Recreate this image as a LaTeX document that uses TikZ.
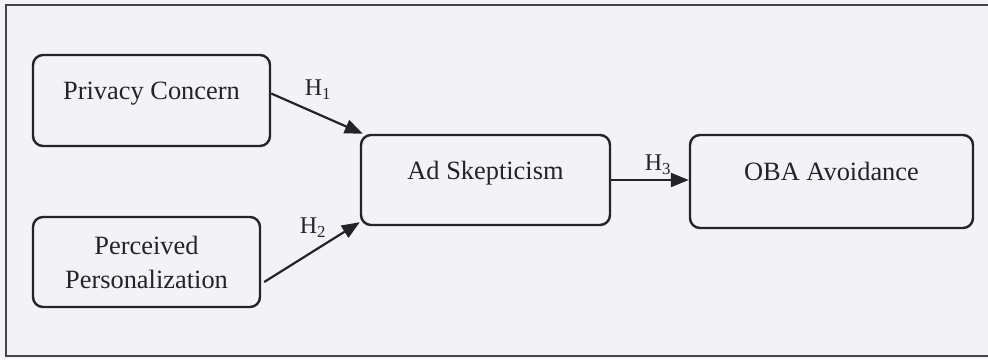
\documentclass[tikz,border=0pt]{standalone}
\usepackage{fontspec}
\setmainfont{Liberation Serif}
\usetikzlibrary{arrows.meta}
\definecolor{paper}{RGB}{243,243,247}
\definecolor{ink}{RGB}{35,35,40}

\begin{document}
\begin{tikzpicture}[x = 1pt, y = -1pt,
  box/.style = {draw = ink, line width = 2.4pt, rounded corners = 10pt, fill = paper, text = ink,
    font = \fontsize{26.4}{34}\selectfont, align = center, inner sep = 0pt},
  hyp/.style = {text = ink, font = \fontsize{24}{28}\selectfont, inner sep = 0pt},
  link/.style = {draw = ink, line width = 2.2pt, -{Triangle[length = 18pt, width = 14pt]}}]
\useasboundingbox (0,0) rectangle (988,359);
\fill[paper] (0,0) rectangle (988,359);
\draw[ink!85, line width = 2.5pt] (6,5) rectangle (1000,356);
% constructs
\node[box, minimum width = 237pt, minimum height = 91pt, text depth = 20pt] (pc) at (151.5,100.5) {Privacy Concern};
\node[box, minimum width = 227pt, minimum height = 90pt] (pp) at (146.5,262) {Perceived\\Personalization};
\node[box, minimum width = 249pt, minimum height = 90pt, text depth = 20pt] (as) at (485.5,180) {Ad Skepticism};
\node[box, minimum width = 283pt, minimum height = 93pt, text depth = 20pt] (oba) at (831.5,181.5) {OBA Avoidance};
% paths
\draw[link] ([yshift = 7pt]pc.east) -- ([xshift = 3pt]as.north west);
\draw[link] ([xshift = 3pt, yshift = -20pt]pp.east) -- ([yshift = 4pt]as.south west);
\draw[link] (as.east) -- (as.east -| oba.west);
\node[hyp] (h1) at (318,90) {H\textsubscript{1}};
\node[hyp] (h2) at (313,228) {H\textsubscript{2}};
\node[hyp] (h3) at (658,165) {H\textsubscript{3}};
\end{tikzpicture}
\end{document}
